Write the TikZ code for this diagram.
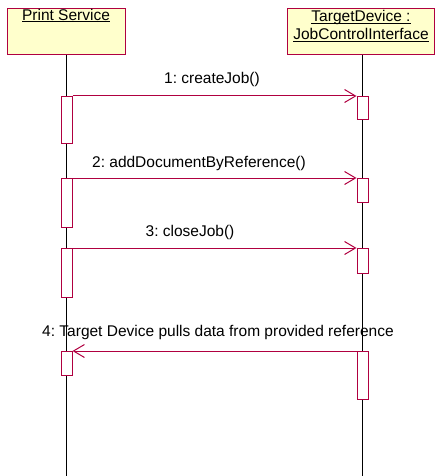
\documentclass[tikz,border=0pt]{standalone}
\usepackage{fontspec}
\setmainfont{Liberation Sans}
\usetikzlibrary{arrows.meta}
\definecolor{umlred}{RGB}{176,0,64}
\definecolor{umlfill}{RGB}{255,255,204}
\newcommand{\objname}[1]{\underline{\smash{#1}}}
\frenchspacing

\begin{document}
\begin{tikzpicture}[x=1pt, y=-1pt, font=\fontsize{15.5}{18}\selectfont,
    obj/.style={draw=umlred, fill=umlfill, line width=1pt, minimum height=46pt, inner sep=0pt, align=center},
    act/.style={draw=umlred, fill=white, line width=1pt, minimum width=11pt, inner sep=0pt, anchor=north},
    msg/.style={draw=umlred, line width=1pt, -{Straight Barb[length=11pt, width=13pt]}}]
    \useasboundingbox (0,0) rectangle (435,476);

    \node[obj, minimum width=118pt](ps) at (66,32) {\objname{Print Service}\\ \strut};
    \node[obj, minimum width=147pt](td) at (361,32) {\objname{TargetDevice :}\\ \objname{JobControlInterface}};

    \coordinate(psend) at (66,476);
    \coordinate(tdend) at (362,476);
    \draw[line width=1pt](ps.south)--(psend);
    \draw[line width=1pt](td.south -| tdend)--(tdend);

    \node[act, minimum height=47pt](la1) at (66.5,96) {};
    \node[act, minimum height=49pt](la2) at (66.5,178) {};
    \node[act, minimum height=49pt](la3) at (66.5,248) {};
    \node[act, minimum height=24pt](la4) at (66.5,351) {};
    \node[act, minimum height=23pt](ra1) at (362.5,96) {};
    \node[act, minimum height=24pt](ra2) at (362.5,178) {};
    \node[act, minimum height=25pt](ra3) at (362.5,248) {};
    \node[act, minimum height=48pt](ra4) at (362.5,351) {};

    \draw[msg](la1.north east)--(ra1.north west);
    \draw[msg](la2.north east)--(ra2.north west);
    \draw[msg](la3.north east)--(ra3.north west);
    \draw[msg](ra4.north west)--(la4.north east);

    \node(m1) at (212,79) {1: createJob()};
    \node(m2) at (199,163) {2: addDocumentByReference()};
    \node(m3) at (190,232) {3: closeJob()};
    \node(m4) at (218,332) {4: Target Device pulls data from provided reference};
\end{tikzpicture}
\end{document}
